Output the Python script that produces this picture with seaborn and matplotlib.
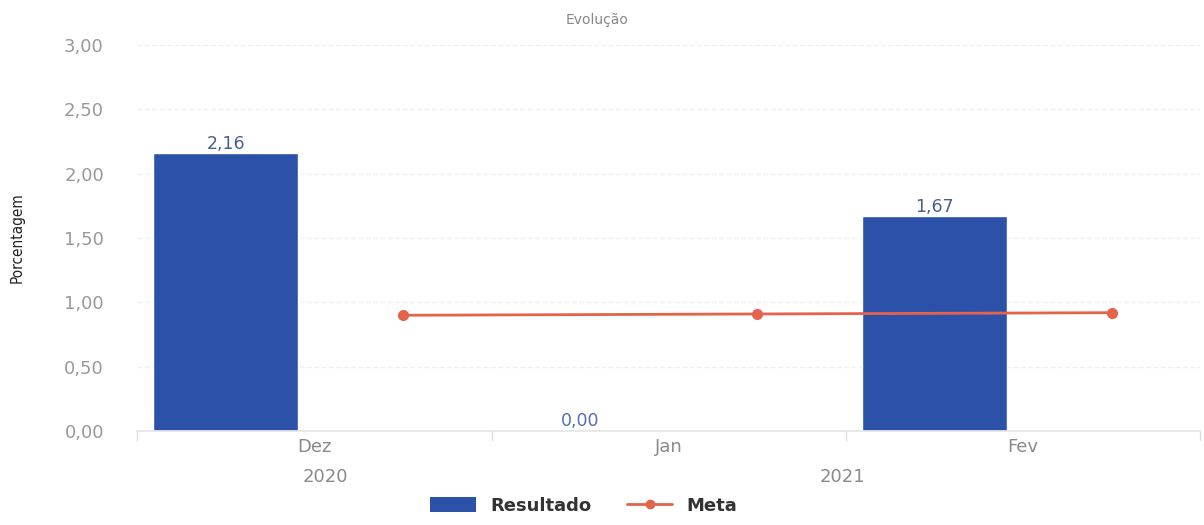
import numpy as np
import matplotlib
matplotlib.use("Agg")
import matplotlib.pyplot as plt
import seaborn as sns
from matplotlib.lines import Line2D
from matplotlib.patches import Patch

meses = ["Dez", "Jan", "Fev"]
anos = ["2020", "2021"]
resultado = [2.16, 0.00, 1.67]
meta = [0.90, 0.91, 0.92]

BLUE = "#2b52a8"
RED = "#e4634c"
GRAY = "#8a8a8a"

sns.set_theme(style="white")
plt.rcParams["font.family"] = ["DejaVu Sans"]

fig = plt.figure(figsize=(12.04, 5.25), dpi=100)
ax = fig.add_axes([0.114, 0.179, 0.883, 0.735])

pos = np.arange(len(meses))
# barras e meta lado a lado em cada mês
sns.barplot(x=pos - 0.25, y=resultado, color=BLUE, width=0.41, saturation=1,
            native_scale=True, ax=ax, zorder=2)
sns.lineplot(x=pos + 0.25, y=meta, color=RED, marker="o", markersize=8,
             markeredgewidth=0, linewidth=2, ax=ax, zorder=3)

for x, v in zip(pos - 0.25, resultado):
    cor = "#4a5f8a" if v > 0 else "#5470b0"
    ax.text(x, v + 0.005, f"{v:.2f}".replace(".", ","), ha="center",
            va="bottom", fontsize=12.5, color=cor)

ax.set_xlim(-0.5, 2.5)
ax.set_ylim(0, 3.0)
yt = np.arange(0, 3.01, 0.5)
ax.set_yticks(yt)
ax.set_yticklabels([f"{t:.2f}".replace(".", ",") for t in yt],
                   color="#999999", fontsize=13)
ax.tick_params(axis="y", length=0, pad=24)

ax.set_xticks(pos)
ax.set_xticklabels(meses, color=GRAY, fontsize=13)
ax.tick_params(axis="x", length=0, pad=5)

# bordas das categorias
for b in np.arange(-0.5, 2.6, 1.0):
    ax.plot([b, b], [0, -0.07], color="#dddddd", lw=1, clip_on=False)

ax.text(0.03, -0.36, anos[0], ha="center", va="center", fontsize=13,
        color=GRAY)
ax.text(1.49, -0.36, anos[1], ha="center", va="center", fontsize=13,
        color=GRAY)

ax.grid(axis="y", color="#f0f0f0", linestyle="--", linewidth=1)
ax.set_axisbelow(True)
for s in ["top", "right", "left"]:
    ax.spines[s].set_visible(False)
ax.spines["bottom"].set_color("#e6e6e6")

ax.set_ylabel("Porcentagem", fontsize=11, color="#222222", labelpad=28,
              fontstretch="condensed")
fig.text(0.496, 0.962, "Evolução", ha="center", va="center", fontsize=10,
         color="#888888")

handles = [Patch(facecolor=BLUE, edgecolor="none"),
           Line2D([0], [0], color=RED, marker="o", markersize=7, lw=2,
                  markeredgewidth=0)]
fig.legend(handles, ["Resultado", "Meta"], loc="lower center",
           bbox_to_anchor=(0.485, -0.012), ncol=2, frameon=False,
           prop={"weight": "bold", "size": 13},
           labelcolor="#333333", handlelength=2.5, handleheight=0.9,
           columnspacing=2.0)

fig.savefig("out.png", dpi=100)
